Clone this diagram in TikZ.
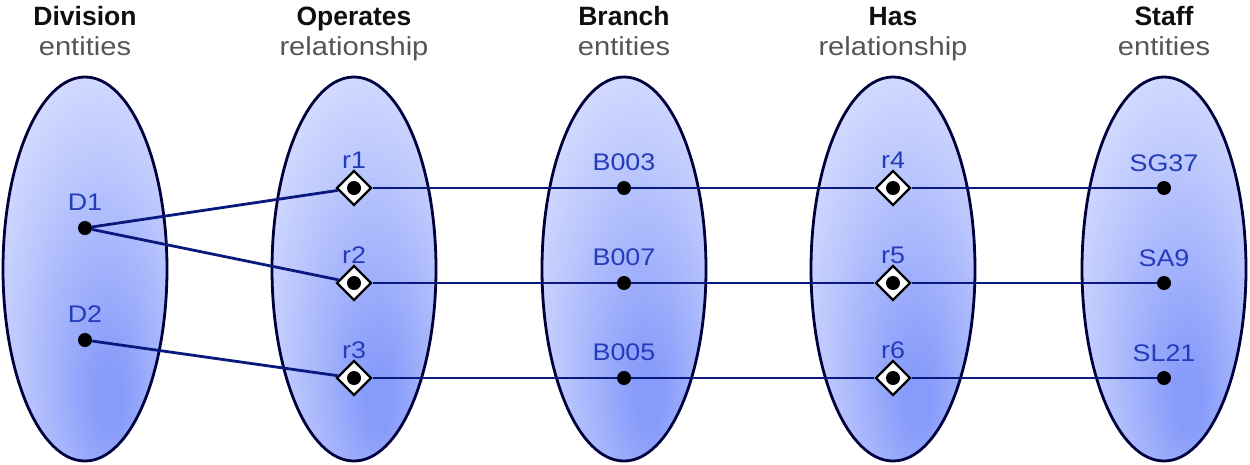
\documentclass[tikz,border=0pt]{standalone}
\usepackage{fontspec}
\setmainfont{Liberation Sans}
\newfontfamily\widefont{Liberation Sans}[FakeStretch=1.12]
\usetikzlibrary{shapes.geometric}
\definecolor{navy}{RGB}{10,25,125}
\definecolor{edge}{RGB}{0,0,60}
\definecolor{lblblue}{RGB}{35,60,185}
\definecolor{ellin}{RGB}{135,155,250}
\definecolor{ellmid}{RGB}{185,197,253}
\definecolor{ellout}{RGB}{236,239,255}
\definecolor{headgray}{RGB}{15,15,15}
\definecolor{subgray}{RGB}{85,85,85}
\pgfdeclareradialshading{ellshade}{\pgfpoint{8bp}{-18bp}}{%
  color(0bp)=(ellin); color(4bp)=(ellin); color(24bp)=(ellmid); color(46bp)=(ellout); color(70bp)=(ellout)}
\tikzset{
  setell/.style={draw=edge, line width=2.8pt, shading=ellshade},
  dotnode/.style={circle, fill=black, inner sep=0pt, minimum size=14pt},
  relnode/.style={diamond, draw=black, fill=white, line width=2.4pt, inner sep=0pt, minimum size=35pt},
  conn/.style={draw=navy, line width=2.8pt},
  lbl/.style={anchor=base, text=lblblue, font=\widefont\fontsize{24}{27}\selectfont, inner sep=0pt},
  headb/.style={anchor=base, text=headgray, font=\fontsize{26.5}{28}\selectfont\bfseries, inner sep=0pt},
  heads/.style={anchor=base, text=subgray, font=\widefont\fontsize{26}{28}\selectfont, inner sep=0pt}
}
\begin{document}
\begin{tikzpicture}[x=1pt,y=-1pt]
\useasboundingbox (0,0) rectangle (1250,464);
% ellipses
\foreach \cx in {85,354,624,893,1164}{
  \path[setell] (\cx,269) ellipse [x radius=82pt, y radius=192pt];
}
% headers
\node[headb] (h1) at (85,25) {Division};
\node[heads] (s1) at (85,55) {entities};
\node[headb] (h2) at (354,25) {Operates};
\node[heads] (s2) at (354,55) {relationship};
\node[headb] (h3) at (624,25) {Branch};
\node[heads] (s3) at (624,55) {entities};
\node[headb] (h4) at (893,25) {Has};
\node[heads] (s4) at (893,55) {relationship};
\node[headb] (h5) at (1164,25) {Staff};
\node[heads] (s5) at (1164,55) {entities};
% entity dots
\node[dotnode] (D1) at (85,228) {};
\node[dotnode] (D2) at (85,340) {};
\node[dotnode] (B003) at (624,188) {};
\node[dotnode] (B007) at (624,283) {};
\node[dotnode] (B005) at (624,378) {};
\node[dotnode] (SG37) at (1164,188) {};
\node[dotnode] (SA9) at (1164,283) {};
\node[dotnode] (SL21) at (1164,378) {};
% relationship diamonds
\node[relnode] (r1) at (354,188) {};
\node[relnode] (r2) at (354,283) {};
\node[relnode] (r3) at (354,378) {};
\node[relnode] (r4) at (893,188) {};
\node[relnode] (r5) at (893,283) {};
\node[relnode] (r6) at (893,378) {};
\foreach \r in {r1,r2,r3,r4,r5,r6}{
  \fill[black] (\r.center) circle (7pt);
}
% connectors
\draw[conn] (D1) -- (r1);
\draw[conn] (D1) -- (r2);
\draw[conn] (D2) -- (r3);
\draw[conn] (r1) -- (B003);
\draw[conn] (r2) -- (B007);
\draw[conn] (r3) -- (B005);
\draw[conn] (B003) -- (r4);
\draw[conn] (B007) -- (r5);
\draw[conn] (B005) -- (r6);
\draw[conn] (r4) -- (SG37);
\draw[conn] (r5) -- (SA9);
\draw[conn] (r6) -- (SL21);
% labels
\node[lbl] (lD1) at (85,210) {D1};
\node[lbl] (lD2) at (85,322) {D2};
\node[lbl] (lr1) at (354,168) {r1};
\node[lbl] (lr2) at (354,263) {r2};
\node[lbl] (lr3) at (354,358) {r3};
\node[lbl] (lB003) at (624,170) {B003};
\node[lbl] (lB007) at (624,265) {B007};
\node[lbl] (lB005) at (624,360) {B005};
\node[lbl] (lr4) at (893,168) {r4};
\node[lbl] (lr5) at (893,263) {r5};
\node[lbl] (lr6) at (893,358) {r6};
\node[lbl] (lSG37) at (1164,171) {SG37};
\node[lbl] (lSA9) at (1164,266) {SA9};
\node[lbl] (lSL21) at (1164,361) {SL21};
\end{tikzpicture}
\end{document}
